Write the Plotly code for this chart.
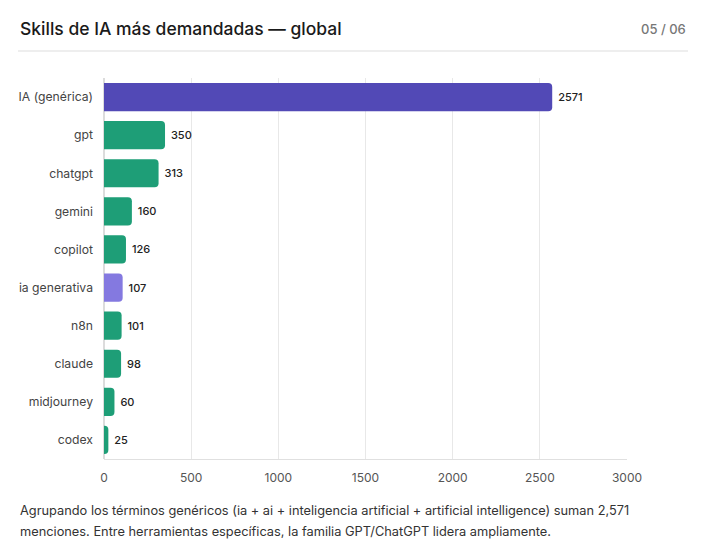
import plotly.graph_objects as go

categories = ["IA (genérica)", "gpt", "chatgpt", "gemini", "copilot", "ia generativa", "n8n", "claude", "midjourney", "codex"]
values = [2571, 350, 313, 160, 126, 107, 101, 98, 60, 25]
colors = ["#5249B6", "#1E9E77", "#1E9E77", "#1E9E77", "#1E9E77", "#8479E0", "#1E9E77", "#1E9E77", "#1E9E77", "#1E9E77"]
tick_vals = [0, 500, 1000, 1500, 2000, 2500, 3000]

W, H = 706, 556
L, R, T, B = 104, 79, 78, 97
pw, ph = W - L - R, H - T - B

def px(x):
    return (x - L) / pw

def py(y):
    return (H - B - y) / ph

FONT = "Inter, Roboto, sans-serif"

fig = go.Figure(go.Bar(
    x=values, y=categories, orientation="h",
    marker=dict(color=colors, line=dict(width=0)),
    text=["\u00a0" + str(v) for v in values], textposition="outside",
    textfont=dict(size=11, color="#222", family=FONT, weight=500),
    cliponaxis=False, width=0.74,
))

fig.update_layout(
    width=W, height=H, margin=dict(l=L, r=R, t=T, b=B),
    paper_bgcolor="white", plot_bgcolor="white",
    showlegend=False, barcornerradius=4,
    font=dict(family=FONT, color="#444"),
    xaxis=dict(range=[0, 3000], tickvals=tick_vals, showgrid=True, gridcolor="#e8e8e8",
               zeroline=True, zerolinecolor="#dcdcdc", showline=True, linecolor="#e0e0e0",
               tickfont=dict(size=12, color="#555"), ticks="", ticklabelstandoff=8,
               fixedrange=True),
    yaxis=dict(categoryorder="array", categoryarray=categories[::-1], autorange=False,
               range=[-0.5, 9.5], tickfont=dict(size=12.2, color="#444"), ticks="",
               ticklabelstandoff=10, showgrid=False),
    annotations=[
        dict(text="Skills de IA más demandadas — global", xref="paper", yref="paper",
             x=px(18), y=py(28), xanchor="left", yanchor="middle", showarrow=False,
             font=dict(size=17.5, color="#1a1a1a", family=FONT, weight=500)),
        dict(text="05 / 06", xref="paper", yref="paper",
             x=px(688), y=py(29), xanchor="right", yanchor="middle", showarrow=False,
             font=dict(size=13, color="#777", family=FONT, weight=500)),
        dict(text="Agrupando los términos genéricos (ia + ai + inteligencia artificial + artificial intelligence) suman 2,571",
             xref="paper", yref="paper", x=px(18), y=py(510), xanchor="left", yanchor="middle",
             align="left", showarrow=False,
             font=dict(size=12.8, color="#333", family=FONT)),
        dict(text="menciones. Entre herramientas específicas, la familia GPT/ChatGPT lidera ampliamente.",
             xref="paper", yref="paper", x=px(18), y=py(531), xanchor="left", yanchor="middle",
             align="left", showarrow=False,
             font=dict(size=12.8, color="#333", family=FONT)),
    ],
    shapes=[
        dict(type="line", xref="paper", yref="paper", x0=px(18), x1=px(688),
             y0=py(51), y1=py(51), line=dict(color="#dddddd", width=1)),
    ],
)

fig.write_html("out.html")
